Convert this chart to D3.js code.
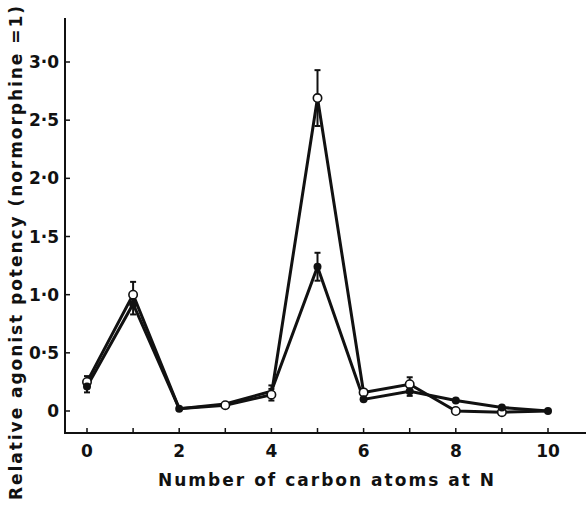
<!DOCTYPE html>
<html>
<head>
<meta charset="utf-8">
<script src="https://cdn.jsdelivr.net/npm/d3@7"></script>
<style>
  html, body { margin: 0; padding: 0; background: #fff; }
  svg { display: block; }
  text { font-family: "DejaVu Sans", sans-serif; fill: #111; }
</style>
</head>
<body>
<svg id="chart" width="586" height="506"></svg>
<script>
const carbons = [0, 1, 2, 3, 4, 5, 6, 7, 8, 9, 10];
const openValues = [0.25, 1.0, 0.02, 0.05, 0.14, 2.69, 0.16, 0.23, 0.0, -0.01, 0.0];
const openErr = [0.05, 0.11, 0, 0, 0.05, 0.24, 0, 0.06, 0, 0, 0];
const filledValues = [0.21, 0.92, 0.02, 0.06, 0.17, 1.24, 0.10, 0.17, 0.09, 0.03, 0.0];
const filledErr = [0.05, 0.09, 0, 0, 0.05, 0.12, 0, 0.04, 0, 0, 0];
const xTicks = [0, 2, 4, 6, 8, 10];
const yTicks = [0, 0.5, 1.0, 1.5, 2.0, 2.5, 3.0];
const yTickLabels = ["0", "0·5", "1·0", "1·5", "2·0", "2·5", "3·0"];
const xTitle = "Number of carbon atoms at N";
const yTitle = "Relative agonist potency (normorphine =1)";

const svg = d3.select("#chart");
const x = d3.scaleLinear().domain([0, 10]).range([87, 548]);
const y = d3.scaleLinear().domain([0, 3]).range([411, 62]);
const axisLeftX = 65, axisBottomY = 433, axisTopY = 18, axisRightX = 586;

svg.append("line").attr("x1", axisLeftX).attr("x2", axisLeftX)
  .attr("y1", axisTopY).attr("y2", axisBottomY + 1)
  .attr("stroke", "#111").attr("stroke-width", 2);
svg.append("line").attr("x1", axisLeftX - 1).attr("x2", axisRightX)
  .attr("y1", axisBottomY).attr("y2", axisBottomY)
  .attr("stroke", "#111").attr("stroke-width", 2);

svg.selectAll(".xt").data(carbons).enter().append("line")
  .attr("x1", d => x(d)).attr("x2", d => x(d))
  .attr("y1", axisBottomY).attr("y2", axisBottomY - 5)
  .attr("stroke", "#111").attr("stroke-width", 1.5);
svg.selectAll(".xl").data(xTicks).enter().append("text")
  .attr("x", d => x(d)).attr("y", 457)
  .attr("text-anchor", "middle").attr("font-size", 17).attr("font-weight", "bold")
  .text(d => d);

svg.selectAll(".yt").data(yTicks).enter().append("line")
  .attr("x1", axisLeftX).attr("x2", axisLeftX + 5)
  .attr("y1", d => y(d)).attr("y2", d => y(d))
  .attr("stroke", "#111").attr("stroke-width", 1.5);
svg.selectAll(".yl").data(yTicks).enter().append("text")
  .attr("x", 59).attr("y", d => y(d) + 6)
  .attr("text-anchor", "end").attr("font-size", 17).attr("font-weight", "bold")
  .text((d, i) => yTickLabels[i]);

svg.append("text").attr("x", 326).attr("y", 486)
  .attr("text-anchor", "middle").attr("font-size", 17).attr("font-weight", "bold")
  .attr("textLength", 336).attr("lengthAdjust", "spacing")
  .text(xTitle);
svg.append("text")
  .attr("transform", "translate(22,253) rotate(-90)")
  .attr("text-anchor", "middle").attr("font-size", 17).attr("font-weight", "bold")
  .attr("textLength", 494).attr("lengthAdjust", "spacing")
  .text(yTitle);

const line = d3.line().x((d, i) => x(carbons[i])).y(d => y(d));

function drawErr(vals, errs) {
  const g = svg.append("g").attr("stroke", "#111").attr("stroke-width", 2);
  carbons.forEach((c, i) => {
    if (!errs[i]) return;
    const cx = x(c), y1 = y(vals[i] + errs[i]), y2 = y(vals[i] - errs[i]);
    g.append("line").attr("x1", cx).attr("x2", cx).attr("y1", y1).attr("y2", y2);
    g.append("line").attr("x1", cx - 3).attr("x2", cx + 3).attr("y1", y1).attr("y2", y1);
    g.append("line").attr("x1", cx - 3).attr("x2", cx + 3).attr("y1", y2).attr("y2", y2);
  });
}

drawErr(filledValues, filledErr);
drawErr(openValues, openErr);

svg.append("path").datum(filledValues).attr("d", line)
  .attr("fill", "none").attr("stroke", "#111").attr("stroke-width", 3).attr("stroke-linejoin", "miter");
svg.append("path").datum(openValues).attr("d", line)
  .attr("fill", "none").attr("stroke", "#111").attr("stroke-width", 3).attr("stroke-linejoin", "miter");

const openIdx = carbons.map((c, i) => i).filter(i => i !== 10 && i !== 2);
const filledIdx = carbons.map((c, i) => i).filter(i => i !== 3 && i !== 4);

svg.selectAll(".od").data(openIdx).enter().append("circle")
  .attr("cx", i => x(carbons[i])).attr("cy", i => y(openValues[i])).attr("r", 4.2)
  .attr("fill", "#fff").attr("stroke", "#111").attr("stroke-width", 1.6);
svg.selectAll(".fd").data(filledIdx).enter().append("circle")
  .attr("cx", i => x(carbons[i])).attr("cy", i => y(filledValues[i])).attr("r", 4)
  .attr("fill", "#111");
</script>
</body>
</html>
